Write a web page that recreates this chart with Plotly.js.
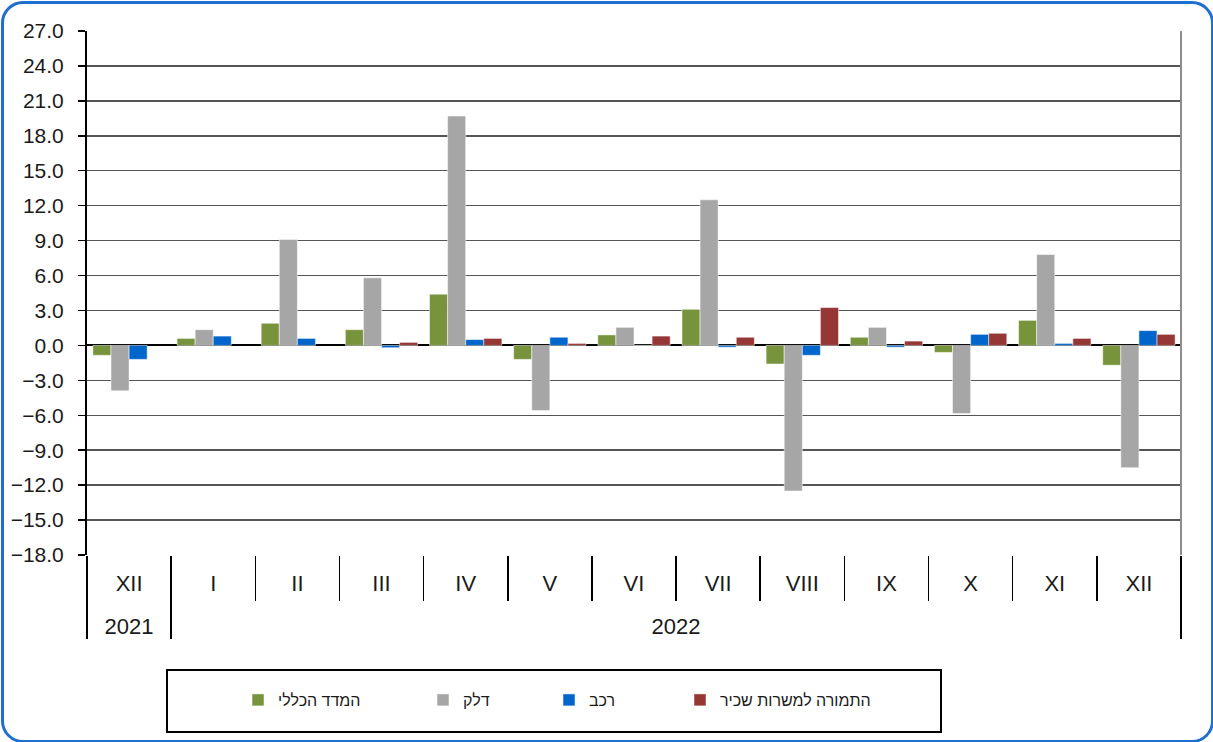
<!DOCTYPE html>
<html><head><meta charset="utf-8">
<script src="https://cdn.plot.ly/plotly-3.0.1.min.js"></script>
<style>
html,body{margin:0;padding:0;background:#fff;}
#wrap{position:relative;width:1213px;height:742px;}
#chart{position:absolute;left:0;top:0;width:1213px;height:742px;}
#frame{position:absolute;left:1px;top:1px;width:1207px;height:736px;border:3px solid #1f6fd0;border-radius:22px;pointer-events:none;}
</style></head>
<body>
<div id="wrap"><div id="chart"></div><div id="frame"></div></div>
<script>
const years  = ['2021','2022','2022','2022','2022','2022','2022','2022','2022','2022','2022','2022','2022'];
const months = ['XII','I','II','III','IV','V','VI','VII','VIII','IX','X','XI','XII\u200b'];
const seriesNames = ['המדד הכללי','דלק','רכב','התמורה למשרות שכיר'];
const totalIndex = [-0.85,0.6,1.9,1.35,4.4,-1.2,0.9,3.1,-1.6,0.7,-0.6,2.15,-1.7];
const fuel       = [-3.9,1.35,9.1,5.8,19.7,-5.6,1.55,12.5,-12.5,1.55,-5.85,7.8,-10.5];
const vehicles   = [-1.2,0.8,0.6,-0.2,0.5,0.7,0,-0.15,-0.85,-0.15,0.95,0.17,1.27];
const wages      = [null,null,null,0.26,0.6,0.17,0.8,0.7,3.25,0.37,1.04,0.6,0.95];
const colors = ['#77933c','#a6a6a6','#0066cc','#953735'];
const yTicks = [27,24,21,18,15,12,9,6,3,0,-3,-6,-9,-12,-15,-18];

const W=1213,H=742,L=87,R=32,T=31,B=187;
const pw=W-L-R, ph=H-T-B;
const px=v=>(v-L)/pw, py=v=>-(v-(H-B))/ph;

const legendIds = ['legend','legend2','legend3','legend4'];
const legendLeft = [238,423,549,680];

const allSeries = [totalIndex, fuel, vehicles, wages];
const traces = allSeries.map((vals,i)=>({
  type:'bar', name: seriesNames[i], x:[years.map(y=>'<br>'+y), months], y: vals,
  legend: legendIds[i],
  marker:{color: colors[i], line:{color:'rgba(255,255,255,0.5)', width:1}},
  hoverinfo:'y+name'
}));

const layout = {
  width:W, height:H,
  margin:{l:L,r:R,t:T,b:B},
  paper_bgcolor:'rgba(0,0,0,0)', plot_bgcolor:'#fff',
  font:{family:'Liberation Sans, Arial, sans-serif', color:'#1a1a1a', size:21},
  barmode:'group', bargap:0.14, bargroupgap:0,
  showlegend:true,
  xaxis:{type:'multicategory', showgrid:false, zeroline:false, showline:false,
         ticks:'outside', tickson:'boundaries', ticklen:45, tickcolor:'#000', tickwidth:1.5,
         showdividers:true, dividercolor:'#000', dividerwidth:1.5, ticklabelstandoff:13,
         tickfont:{size:22}},
  yaxis:{range:[-18,27], tickvals:yTicks, tickformat:'.1f', showgrid:true, gridcolor:'#555', gridwidth:1.5,
         zeroline:true, zerolinecolor:'#000', zerolinewidth:2,
         showline:true, linecolor:'#000', linewidth:2, ticks:'outside', ticklen:7, tickcolor:'#000', tickwidth:1.5,
         ticklabelstandoff:10, tickfont:{size:21}},
  shapes:[
    {type:'line', xref:'paper', yref:'paper', x0:1, x1:1, y0:0, y1:1, line:{color:'#8c8c8c', width:2}},
    {type:'rect', xref:'paper', yref:'paper', x0:px(167), x1:px(941), y0:py(732), y1:py(670), line:{color:'#000', width:2}, fillcolor:'rgba(0,0,0,0)'}
  ]
};
legendIds.forEach((id,i)=>{
  layout[id] = {orientation:'h', x:px(legendLeft[i]), xanchor:'left', y:py(700), yanchor:'middle',
                font:{size:16, family:'Liberation Sans, Arial, sans-serif', color:'#1a1a1a'},
                bgcolor:'rgba(0,0,0,0)', borderwidth:0, itemwidth:30};
});
Plotly.newPlot('chart', traces, layout, {displayModeBar:false, staticPlot:true});
</script>
</body></html>
